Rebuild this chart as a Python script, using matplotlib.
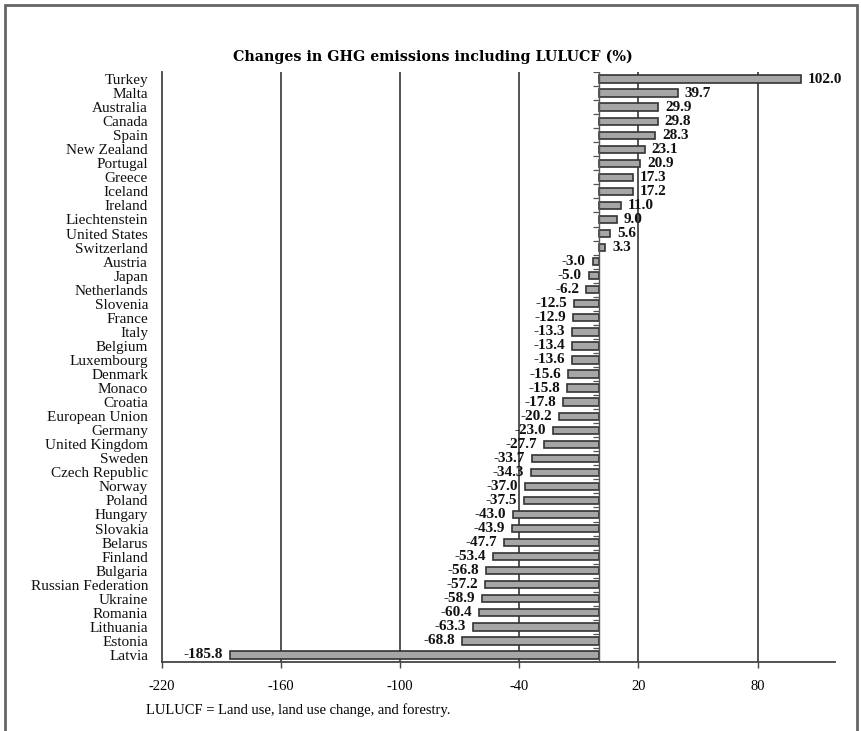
import numpy as np
import matplotlib
matplotlib.use('Agg')
import matplotlib.pyplot as plt
from matplotlib.patches import Rectangle

# data, top to bottom
countries = ['Turkey', 'Malta', 'Australia', 'Canada', 'Spain', 'New Zealand',
             'Portugal', 'Greece', 'Iceland', 'Ireland', 'Liechtenstein',
             'United States', 'Switzerland', 'Austria', 'Japan', 'Netherlands',
             'Slovenia', 'France', 'Italy', 'Belgium', 'Luxembourg', 'Denmark',
             'Monaco', 'Croatia', 'European Union', 'Germany', 'United Kingdom',
             'Sweden', 'Czech Republic', 'Norway', 'Poland', 'Hungary',
             'Slovakia', 'Belarus', 'Finland', 'Bulgaria', 'Russian Federation',
             'Ukraine', 'Romania', 'Lithuania', 'Estonia', 'Latvia']
values = [102.0, 39.7, 29.9, 29.8, 28.3, 23.1, 20.9, 17.3, 17.2, 11.0, 9.0,
          5.6, 3.3, -3.0, -5.0, -6.2, -12.5, -12.9, -13.3, -13.4, -13.6, -15.6,
          -15.8, -17.8, -20.2, -23.0, -27.7, -33.7, -34.3, -37.0, -37.5, -43.0,
          -43.9, -47.7, -53.4, -56.8, -57.2, -58.9, -60.4, -63.3, -68.8, -185.8]
xticks = [-220, -160, -100, -40, 20, 80]

serif = 'Liberation Serif'

fig = plt.figure(figsize=(8.62, 7.31), dpi=100)
ax = fig.add_axes([162/862, 1-662/731, (835-162)/862, (662-72)/731])

y = np.arange(len(countries))
ax.barh(y, values, height=0.52, color='#a6a6a6', edgecolor='#333333', linewidth=1.2, zorder=3)

# gridlines and zero line
for t in xticks[1:]:
    ax.axvline(t, color='#454545', linewidth=1.3, zorder=1)
ax.axvline(0, color='#555555', linewidth=1.0, zorder=4)
ax.hlines(np.arange(-0.5, len(countries), 1.0), -2.8, 0, color='#555555', linewidth=0.9, zorder=4)

# value labels
for i, v in enumerate(values):
    if v >= 0:
        ax.annotate('%.1f' % v, (v, i), xytext=(5, 0), textcoords='offset points',
                    ha='left', va='center', fontsize=11, fontweight='bold',
                    family=serif, color='#111111', zorder=5)
    else:
        ax.annotate('%.1f' % v, (v, i), xytext=(-5, 0), textcoords='offset points',
                    ha='right', va='center', fontsize=11, fontweight='bold',
                    family=serif, color='#111111', zorder=5)

ax.set_xlim(-220, 119)
ax.set_ylim(len(countries) - 0.5, -0.5)
ax.set_xticks(xticks)
ax.set_xticklabels([str(t) for t in xticks], family=serif, fontsize=10.5)
ax.set_yticks(y)
ax.set_yticklabels(countries, family=serif, fontsize=11, color='#111111')
ax.tick_params(axis='y', length=0, pad=10)
ax.tick_params(axis='x', length=4, width=1, color='#444444', pad=9)

for s in ['top', 'right']:
    ax.spines[s].set_visible(False)
for s in ['left', 'bottom']:
    ax.spines[s].set_color('#444444')
    ax.spines[s].set_linewidth(1.3)

fig.text(433/862, 1-57/731, 'Changes in GHG emissions including LULUCF (%)',
         ha='center', va='center', fontsize=10.3, fontweight='bold', family='DejaVu Serif')
fig.text(146/862, 1-710/731, 'LULUCF = Land use, land use change, and forestry.',
         ha='left', va='center', fontsize=10.5, family=serif)

# outer frame
fig.patches.append(Rectangle((5/862, -0.05), 852/862, 1.05 - 5/731, transform=fig.transFigure,
                             fill=False, edgecolor='#666666', linewidth=2))

fig.savefig('out.png', dpi=100)
